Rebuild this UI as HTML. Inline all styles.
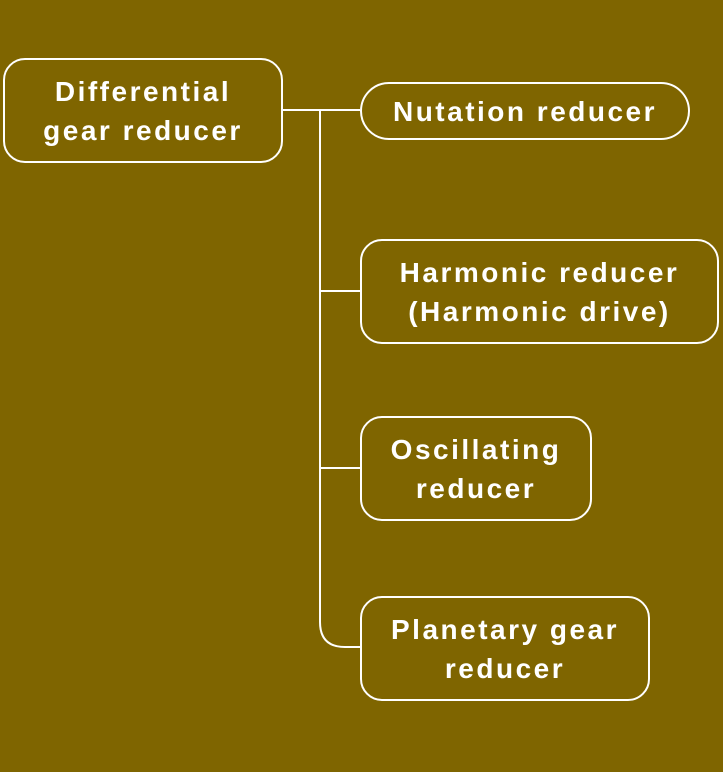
<!DOCTYPE html><html><head><style>
body{margin:0;width:723px;height:772px;background:#7f6500;overflow:hidden}
svg{position:absolute;left:0;top:0}
.b{position:absolute;box-sizing:border-box;border:2px solid #fff;display:flex;align-items:center;justify-content:center;text-align:center;color:#fff;font-family:"Liberation Sans",sans-serif;font-weight:bold;font-size:28px;line-height:39px;letter-spacing:2.5px;white-space:nowrap}
</style></head><body>
<svg width="723" height="772"><path d="M282 110H360M320 110V622Q320 647 345 647H360M320 291H360M320 468H360" fill="none" stroke="#fff" stroke-width="2"/></svg>
<div class="b" style="left:3px;top:58px;width:280px;height:105px;border-radius:22px">Differential<br>gear reducer</div>
<div class="b" style="left:360px;top:82px;width:330px;height:58px;border-radius:29px">Nutation reducer</div>
<div class="b" style="left:360px;top:239px;width:359px;height:105px;border-radius:22px">Harmonic reducer<br>(Harmonic drive)</div>
<div class="b" style="left:360px;top:416px;width:232px;height:105px;border-radius:22px">Oscillating<br>reducer</div>
<div class="b" style="left:360px;top:596px;width:290px;height:105px;border-radius:22px">Planetary gear<br>reducer</div>
</body></html>
